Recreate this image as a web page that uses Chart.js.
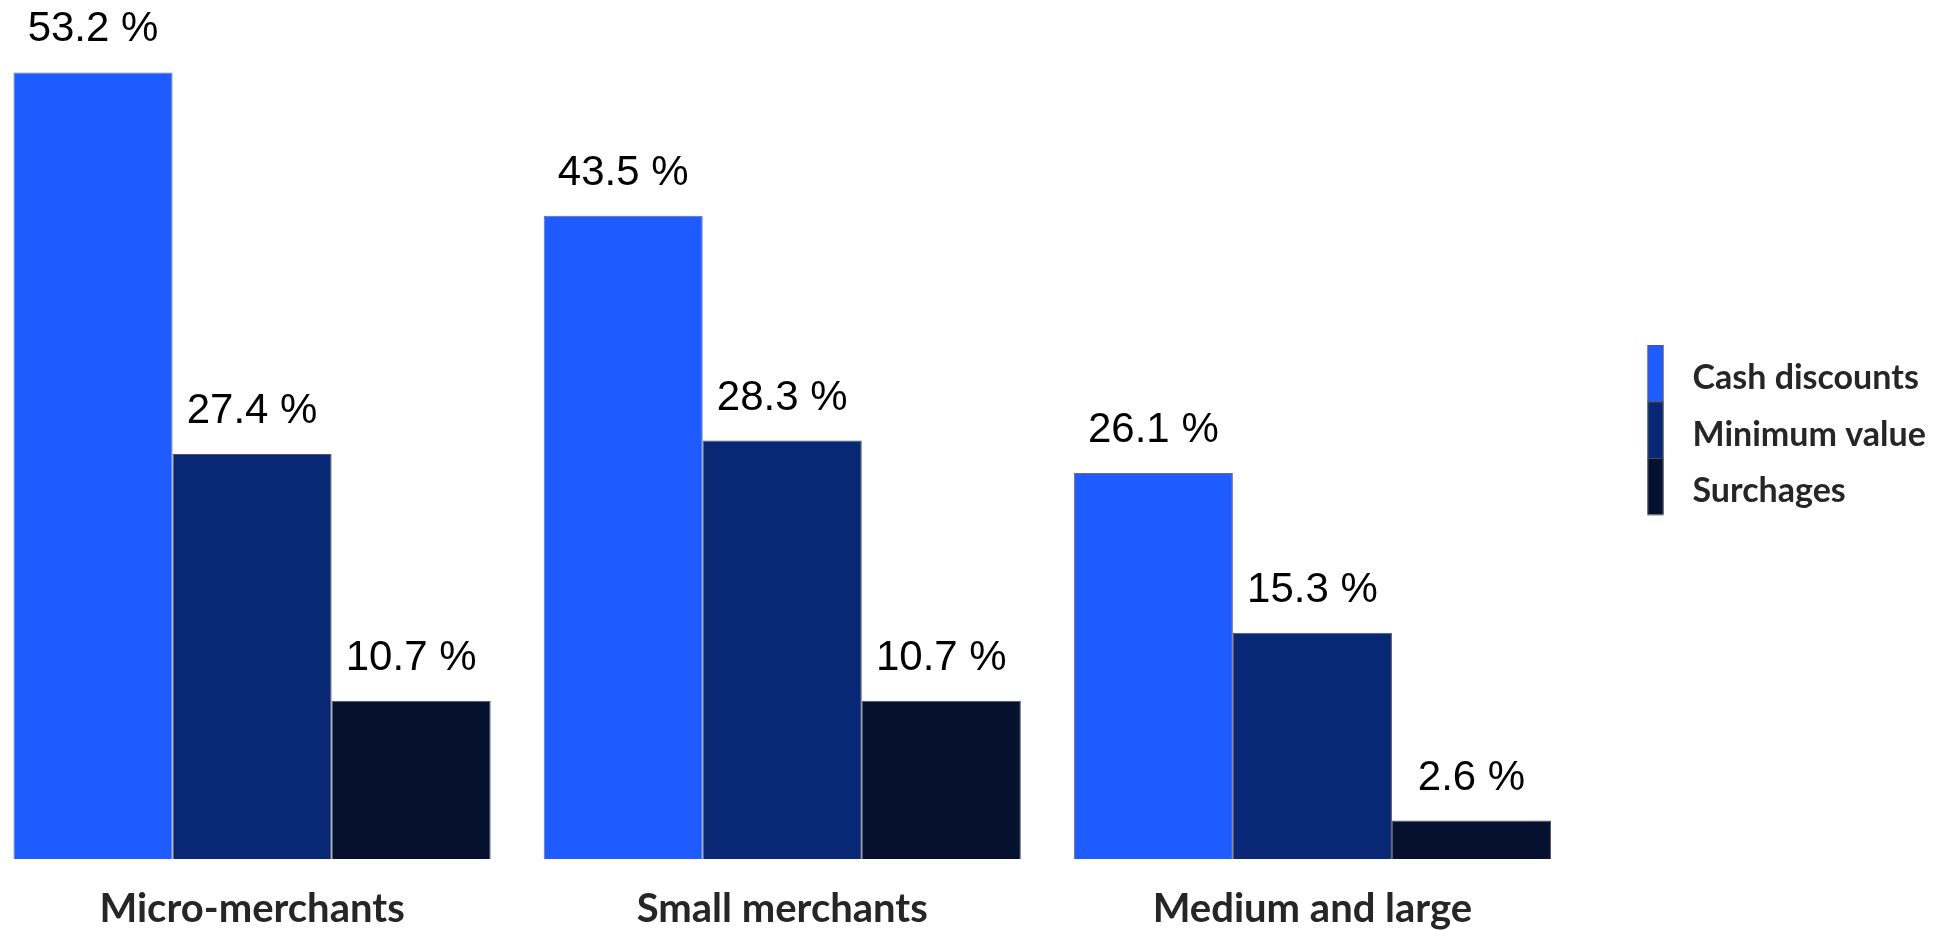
<!DOCTYPE html>
<html>
<head>
<meta charset="utf-8">
<script src="https://cdn.jsdelivr.net/npm/chart.js@4.4.0/dist/chart.umd.min.js"></script>
<style>
html, body { margin: 0; padding: 0; background: #fff; overflow: hidden; }
#wrap { position: absolute; left: -13px; top: 0; width: 1972px; height: 961px; }
</style>
</head>
<body>
<div id="wrap"><canvas id="wykres"></canvas></div>
<script>
var kategorie = ["Micro-merchants", "Small merchants", "Medium and large"];
var serie = ["Cash discounts", "Minimum value", "Surchages"];
var cashDiscounts = [53.2, 43.5, 26.1];
var minimumValue = [27.4, 28.3, 15.3];
var surchages = [10.7, 10.7, 2.6];
var kolory = ["#1f5cff", "#082875", "#05112e"];

// etykiety nad slupkami
var etykiety = {
	id: "etykiety",
	afterDatasetsDraw: function(chart) {
		var ctx = chart.ctx;
		ctx.save();
		ctx.font = "42px 'Liberation Sans', Arial, sans-serif";
		ctx.fillStyle = "#000";
		ctx.textAlign = "center";
		ctx.textBaseline = "alphabetic";
		chart.data.datasets.forEach(function(ds, i) {
			chart.getDatasetMeta(i).data.forEach(function(bar, j) {
				ctx.fillText(ds.data[j].toFixed(1) + " %", bar.x, bar.y - 31);
			});
		});
		ctx.restore();
	}
};

// legenda po prawej, kwadraty jeden pod drugim
var legenda = {
	id: "legenda",
	afterDraw: function(chart) {
		var ctx = chart.ctx;
		var x = chart.chartArea.right + 70;
		var y = 345;
		var h = 56.5;
		ctx.save();
		ctx.font = "bold 34px Lato, 'Open Sans', sans-serif";
		ctx.textBaseline = "middle";
		ctx.textAlign = "left";
		chart.data.datasets.forEach(function(ds, i) {
			ctx.fillStyle = ds.backgroundColor;
			ctx.fillRect(x, y + i * h, 16, h);
			ctx.strokeStyle = "rgba(90,90,90,0.8)";
			ctx.lineWidth = 1;
			ctx.strokeRect(x + 0.5, y + i * h + 0.5, 15, h);
			ctx.fillStyle = "#262626";
			ctx.fillText(ds.label, x + 45, y + i * h + h / 2 + 5);
		});
		ctx.restore();
	}
};

var ctx = document.getElementById("wykres");

var barGraph = new Chart(ctx, {
	type: "bar",
	data: {
		labels: kategorie,
		datasets: [
			{ label: serie[0], data: cashDiscounts, backgroundColor: kolory[0], borderColor: "rgba(70,70,90,0.8)", borderWidth: 1 },
			{ label: serie[1], data: minimumValue, backgroundColor: kolory[1], borderColor: "rgba(40,40,60,0.8)", borderWidth: 1 },
			{ label: serie[2], data: surchages, backgroundColor: kolory[2], borderColor: "rgba(40,40,60,0.8)", borderWidth: 1 }
		]
	},
	options: {
		responsive: true,
		maintainAspectRatio: false,
		animation: false,
		layout: { padding: { top: 0, left: 0, right: 381.5, bottom: 2 } },
		plugins: {
			legend: { display: false },
			tooltip: { enabled: false }
		},
		datasets: {
			bar: { categoryPercentage: 0.9, barPercentage: 1.0 }
		},
		scales: {
			x: {
				grid: { display: false, drawTicks: false },
				border: { display: false },
				ticks: {
					color: "#262626",
					padding: 26,
					font: { family: "Lato, 'Open Sans', sans-serif", size: 40, weight: "bold", lineHeight: 1.2 }
				}
			},
			y: {
				display: false,
				min: 0,
				max: 58.1
			}
		}
	},
	plugins: [etykiety, legenda]
});
</script>
</body>
</html>
